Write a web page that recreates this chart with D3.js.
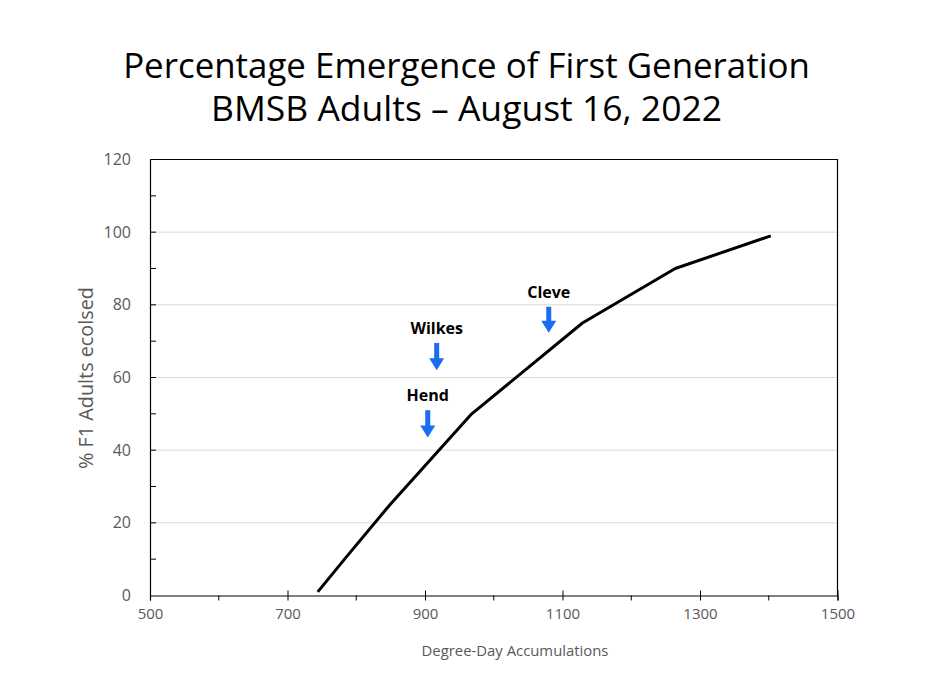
<!DOCTYPE html>
<html>
  <head>
    <meta charset="UTF-8">
    <title>BMSB emergence</title>
    <script src="https://d3js.org/d3.v7.min.js"></script>
    <style>
      body { margin: 0; background: #fff; }
      text { font-family: "Open Sans", "Noto Sans", sans-serif; }
      .tick text { fill: #595959; font-size: 15px; }
      .grid line { stroke: #d9d9d9; stroke-width: 1; }
      .note { font-weight: bold; font-size: 16px; fill: #000; }
    </style>
  </head>
  <body>
    <div id="chart"></div>
<script>
  // degree-day accumulations vs % of F1 adults ecolsed
  var degreeDays = [744, 783, 849, 968, 1129, 1264, 1403];
  var pctEcolsed = [1, 10, 25, 50, 75, 90, 99];

  // county markers
  var counties = ["Hend", "Wilkes", "Cleve"];
  var countyDD = [904, 917, 1080];
  var arrowTop = [51, 69.5, 79.5];
  var arrowTip = [43.5, 62, 72.3];

  var xTicks = [500, 700, 900, 1100, 1300, 1500];
  var yTicks = [0, 20, 40, 60, 80, 100, 120];

  var W = 933, H = 700;
  var margin = {top: 159.5, right: 95.5, bottom: 104.5, left: 150};
  var width = W - margin.left - margin.right,
      height = H - margin.top - margin.bottom;

  var svg = d3.select("#chart").append("svg")
      .attr("width", W).attr("height", H);

  // scale a text so it spans a given width
  function fit(sel, target) {
    var fs = parseFloat(sel.style("font-size"));
    var len = sel.node().getComputedTextLength();
    sel.style("font-size", (fs * target / len) + "px");
  }

  var t1 = svg.append("text").attr("x", 466.5).attr("y", 78)
      .attr("text-anchor", "middle").style("font-size", "40px")
      .text("Percentage Emergence of First Generation");
  fit(t1, 687);
  var t2 = svg.append("text").attr("x", 466.5).attr("y", 121)
      .attr("text-anchor", "middle").style("font-size", "40px")
      .text("BMSB Adults \u2013 August 16, 2022");
  fit(t2, 511);

  var g = svg.append("g")
      .attr("transform", "translate(" + margin.left + "," + margin.top + ")");

  var x = d3.scaleLinear().domain([500, 1500]).range([0, width]);
  var y = d3.scaleLinear().domain([0, 120]).range([height, 0]);

  // gridlines
  g.append("g").attr("class", "grid")
    .selectAll("line").data(yTicks.filter(function(d){ return d > 0 && d < 120; }))
    .enter().append("line")
      .attr("x1", 0).attr("x2", width)
      .attr("y1", function(d){ return y(d); })
      .attr("y2", function(d){ return y(d); });

  // frame (top + right)
  g.append("path")
    .attr("d", "M0,0H" + width + "V" + height)
    .attr("fill", "none").attr("stroke", "#000").attr("stroke-width", 1.2);

  // x axis: major ticks cross, minor ticks below
  var xAxis = g.append("g").attr("transform", "translate(0," + height + ")");
  xAxis.call(d3.axisBottom(x).tickValues(xTicks).tickSize(5).tickPadding(8).tickFormat(d3.format("d")));
  xAxis.select(".domain").attr("stroke", "#000").attr("stroke-width", 1.2);
  xAxis.selectAll(".tick line").attr("y1", -5).attr("stroke", "#000");
  xAxis.selectAll(".tick text").attr("dy", "0.71em");
  g.append("g").attr("transform", "translate(0," + height + ")")
    .selectAll("line").data(d3.range(600, 1500, 200))
    .enter().append("line")
      .attr("x1", function(d){ return x(d); }).attr("x2", function(d){ return x(d); })
      .attr("y1", 0).attr("y2", 5).attr("stroke", "#000");

  // y axis: ticks inside every 10
  var yAxis = g.append("g");
  yAxis.call(d3.axisLeft(y).tickValues(yTicks).tickSize(0).tickPadding(19));
  yAxis.select(".domain").attr("stroke", "#000").attr("stroke-width", 1.2);
  yAxis.selectAll(".tick text").style("font-size", "16px");
  g.append("g").selectAll("line").data(d3.range(10, 120, 10))
    .enter().append("line")
      .attr("x1", 0).attr("x2", 6)
      .attr("y1", function(d){ return y(d); }).attr("y2", function(d){ return y(d); })
      .attr("stroke", "#000");

  // curve
  var pts = degreeDays.map(function(d, i){ return [d, pctEcolsed[i]]; });
  g.append("path").datum(pts)
    .attr("fill", "none").attr("stroke", "#000").attr("stroke-width", 3)
    .attr("stroke-linejoin", "round")
    .attr("d", d3.line().x(function(d){ return x(d[0]); }).y(function(d){ return y(d[1]); }));

  // county arrows + labels
  counties.forEach(function(c, i) {
    var cx = x(countyDD[i]), top = y(arrowTop[i]), tip = y(arrowTip[i]);
    var head = 12;
    g.append("path")
      .attr("d", "M" + (cx - 2.5) + "," + top + "V" + (tip - head) + "H" + (cx - 7.5) +
                 "L" + cx + "," + tip + "L" + (cx + 7.5) + "," + (tip - head) +
                 "H" + (cx + 2.5) + "V" + top + "Z")
      .attr("fill", "#1a6cf0");
    g.append("text").attr("class", "note")
      .attr("x", cx).attr("y", top - 9)
      .attr("text-anchor", "middle").text(c);
  });

  // axis titles
  var yl = svg.append("text")
      .attr("transform", "translate(93,378) rotate(-90)")
      .attr("text-anchor", "middle").attr("fill", "#595959").style("font-size", "20px")
      .text("% F1 Adults ecolsed");
  fit(yl, 182);
  var xl = svg.append("text").attr("x", 515).attr("y", 656)
      .attr("text-anchor", "middle").attr("fill", "#595959").style("font-size", "14px")
      .text("Degree-Day Accumulations");
  fit(xl, 187);
</script>
  </body>
</html>
